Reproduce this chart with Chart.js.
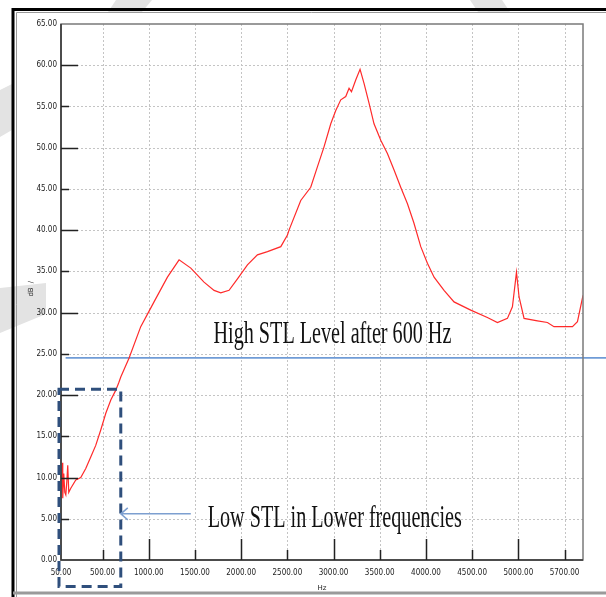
<!DOCTYPE html>
<html lang="en">
<head>
  <meta charset="UTF-8" />
  <title>STL chart</title>
  <script src="https://cdn.jsdelivr.net/npm/chart.js@4.4.0/dist/chart.umd.min.js"></script>
  <style>
    body { margin: 0; background: #fff; }
    #wrap { width: 606px; height: 597px; }
  </style>
</head>
<body>
  <div id="wrap"><canvas id="stlChart" width="606" height="597"></canvas></div>
  <script>
    // measured STL curve (Hz, dB)
    const freqHz = [58, 64, 69, 80, 91, 102, 113, 123, 134, 156, 210, 264, 318, 372, 426, 481, 535, 589, 643, 675,
      697, 787, 913, 1057, 1202, 1328, 1455, 1598, 1707, 1779, 1869, 1960, 2068, 2176, 2285, 2429, 2501, 2518,
      2645, 2753, 2826, 2897, 2970, 3024, 3078, 3132, 3168, 3194, 3240, 3287, 3330, 3384, 3438, 3511, 3583,
      3655, 3727, 3800, 3869, 3944, 4016, 4088, 4196, 4304, 4485, 4665, 4774, 4882, 4936, 4980, 5008, 5062, 5207,
      5315, 5386, 5586, 5640, 5700];
    const stlDb = [10.0, 11.8, 7.5, 10.5, 8.2, 7.9, 9.5, 11.5, 8.2, 8.7, 9.7, 10.0, 11.1, 12.5, 13.9, 15.8, 17.8, 19.4, 20.6, 21.5,
      22.2, 24.5, 28.3, 31.3, 34.3, 36.4, 35.4, 33.7, 32.7, 32.4, 32.7, 34.1, 35.8, 37.0, 37.4, 38.0, 39.4, 40.0,
      43.6, 45.2, 47.7, 50.1, 52.9, 54.5, 55.8, 56.2, 57.2, 56.8, 58.2, 59.5, 57.8, 55.4, 52.9, 50.9, 49.3,
      47.3, 45.2, 43.2, 40.9, 38.0, 36.0, 34.3, 32.7, 31.3, 30.3, 29.4, 28.8, 29.3, 30.7, 34.9, 31.9, 29.3, 29.0,
      28.8, 28.3, 28.3, 28.9, 32.1];

    // axis ticks
    const xTicks = [50, 500, 1000, 1500, 2000, 2500, 3000, 3500, 4000, 4500, 5000, 5500];
    const xTickLabels = ['50.00', '500.00', '1000.00', '1500.00', '2000.00', '2500.00', '3000.00',
      '3500.00', '4000.00', '4500.00', '5000.00', '5700.00'];
    const yMin = 0, yMax = 65, yStep = 5;

    // annotations
    const levelDb = 24.5;
    const levelHz = [100, 5960];
    const lowBoxHz = [50, 697];
    const lowBoxDb = [-3.2, 20.7];
    const arrowHz = [1455, 697];
    const arrowDb = 5.6;
    const highText = 'High STL Level after 600 Hz';
    const highTextAt = [2988, 26.3];
    const lowText = 'Low STL in Lower frequencies';
    const lowTextAt = [3013, 4.0];

    const decor = {
      id: 'decor',
      beforeDraw(chart) {
        const c = chart.ctx, W = chart.width, H = chart.height;
        c.save();
        c.fillStyle = '#fff';
        c.fillRect(0, 0, W, H);
        // faint watermark shapes from the source page
        c.fillStyle = '#e3e3e3';
        [[[116, 0], [152, 0], [142, 12], [108, 12]],
         [[470, 0], [502, 0], [510, 12], [478, 12]],
         [[0, 90], [12, 84], [12, 130], [0, 137]],
         [[0, 288], [46, 283], [46, 314], [0, 333]]].forEach(p => {
          c.beginPath();
          c.moveTo(p[0][0], p[0][1]);
          p.slice(1).forEach(q => c.lineTo(q[0], q[1]));
          c.closePath();
          c.fill();
        });
        // outer frame
        c.strokeStyle = '#000';
        c.lineWidth = 3;
        c.beginPath();
        c.moveTo(13, H); c.lineTo(13, 9.5); c.lineTo(W, 9.5);
        c.stroke();
        c.strokeStyle = '#999';
        c.lineWidth = 1;
        c.beginPath();
        c.moveTo(16.5, H); c.lineTo(16.5, 12.5); c.lineTo(W, 12.5);
        c.stroke();
        c.strokeStyle = '#9a9a9a';
        c.lineWidth = 3;
        c.beginPath();
        c.moveTo(13, 593); c.lineTo(W, 593);
        c.stroke();
        c.restore();
      },
      beforeDatasetsDraw(chart) {
        // dotted grid at the tick positions
        const c = chart.ctx, a = chart.chartArea;
        const xs = chart.scales.x, ys = chart.scales.y;
        c.save();
        c.strokeStyle = '#c4c4c4';
        c.lineWidth = 1;
        c.setLineDash([2, 2]);
        c.beginPath();
        xTicks.slice(1).forEach(v => {
          const px = Math.round(xs.getPixelForValue(v)) + 0.5;
          c.moveTo(px, a.top); c.lineTo(px, a.bottom);
        });
        for (let v = yMin + yStep; v < yMax; v += yStep) {
          const py = Math.round(ys.getPixelForValue(v)) + 0.5;
          c.moveTo(a.left, py); c.lineTo(a.right, py);
        }
        c.stroke();
        c.restore();
      },
      afterDraw(chart) {
        const c = chart.ctx, a = chart.chartArea;
        const xs = chart.scales.x, ys = chart.scales.y;
        c.save();
        // plot frame
        c.strokeStyle = '#7a7a7a';
        c.lineWidth = 1.5;
        c.strokeRect(a.left, a.top, a.right - a.left, a.bottom - a.top);
        c.strokeStyle = '#333';
        c.beginPath();
        c.moveTo(a.left, a.top); c.lineTo(a.left, a.bottom); c.lineTo(a.right, a.bottom);
        c.stroke();

        // inward tick marks
        c.strokeStyle = '#222';
        c.lineWidth = 1.5;
        c.beginPath();
        xTicks.slice(1).forEach(v => {
          const px = Math.round(xs.getPixelForValue(v)) + 0.5;
          const len = v % 1000 === 0 ? 21 : 10;
          c.moveTo(px, a.bottom); c.lineTo(px, a.bottom - len);
        });
        for (let v = yMin + yStep; v < yMax; v += yStep) {
          const py = Math.round(ys.getPixelForValue(v)) + 0.5;
          const len = v % 10 === 0 ? 17 : 8;
          c.moveTo(a.left, py); c.lineTo(a.left + len, py);
        }
        c.stroke();

        // y title
        c.fillStyle = '#222';
        c.font = "7px 'DejaVu Sans', sans-serif";
        c.translate(31, (a.top + a.bottom) / 2);
        c.rotate(-Math.PI / 2);
        c.textAlign = 'center';
        c.textBaseline = 'middle';
        c.fillText('dB', 0, 0);
        c.fillText('/', 10, 0);
        c.restore();

        // dashed box around the low-frequency region
        c.save();
        c.strokeStyle = '#2f4f7c';
        c.lineWidth = 3;
        c.setLineDash([10, 6]);
        const bx0 = xs.getPixelForValue(lowBoxHz[0]) - 2, bx1 = xs.getPixelForValue(lowBoxHz[1]);
        const by0 = ys.getPixelForValue(lowBoxDb[1]), by1 = ys.getPixelForValue(lowBoxDb[0]);
        c.strokeRect(bx0, by0, bx1 - bx0, by1 - by0);
        c.restore();

        // arrow
        c.save();
        const ax0 = xs.getPixelForValue(arrowHz[0]), ax1 = xs.getPixelForValue(arrowHz[1]);
        const ay = ys.getPixelForValue(arrowDb);
        c.strokeStyle = '#7d9fd0';
        c.lineWidth = 1.5;
        c.beginPath();
        c.moveTo(ax0, ay); c.lineTo(ax1, ay);
        c.moveTo(ax1 + 7, ay - 6); c.lineTo(ax1, ay); c.lineTo(ax1 + 7, ay + 6);
        c.stroke();
        c.restore();

        // text labels (narrow serif)
        const label = (txt, at) => {
          c.save();
          c.translate(xs.getPixelForValue(at[0]), ys.getPixelForValue(at[1]));
          c.scale(0.65, 1);
          c.font = "31px 'Liberation Serif', 'Times New Roman', serif";
          c.fillStyle = '#111';
          c.textAlign = 'center';
          c.textBaseline = 'alphabetic';
          c.fillText(txt, 0, 0);
          c.restore();
        };
        label(highText, highTextAt);
        label(lowText, lowTextAt);
      }
    };

    const ctx = document.getElementById('stlChart').getContext('2d');
    new Chart(ctx, {
      type: 'line',
      data: {
        datasets: [
          {
            data: freqHz.map((f, i) => ({ x: f, y: stlDb[i] })),
            borderColor: '#ff2a2a',
            borderWidth: 1.2,
            pointRadius: 0,
            tension: 0,
            fill: false
          },
          {
            data: levelHz.map(f => ({ x: f, y: levelDb })),
            borderColor: '#6f9bd6',
            borderWidth: 1.8,
            pointRadius: 0,
            fill: false,
            clip: false
          }
        ]
      },
      options: {
        responsive: false,
        animation: false,
        layout: { padding: { top: 24, right: 23, left: 0, bottom: 0 } },
        plugins: {
          legend: { display: false },
          tooltip: { enabled: false }
        },
        scales: {
          x: {
            type: 'linear',
            min: 50,
            max: 5700,
            afterBuildTicks: s => { s.ticks = xTicks.map(v => ({ value: v })); },
            afterFit: s => { s.height = 37; },
            ticks: {
              autoSkip: false,
              maxRotation: 0,
              padding: 8,
              color: '#222',
              font: { family: "'Liberation Sans Narrow', 'DejaVu Sans Condensed', sans-serif", size: 8 },
              callback: (v, i) => xTickLabels[i]
            },
            grid: { display: false, drawTicks: false },
            border: { display: false },
            title: {
              display: true,
              text: 'Hz',
              color: '#222',
              font: { family: "'DejaVu Sans', sans-serif", size: 7 },
              padding: { top: 0, bottom: 5 }
            }
          },
          y: {
            min: yMin,
            max: yMax,
            afterFit: s => { s.width = 61; },
            ticks: {
              stepSize: yStep,
              padding: 4,
              color: '#222',
              font: { family: "'Liberation Sans Narrow', 'DejaVu Sans Condensed', sans-serif", size: 8 },
              callback: v => v.toFixed(2)
            },
            grid: { display: false, drawTicks: false },
            border: { display: false }
          }
        }
      },
      plugins: [decor]
    });
  </script>
</body>
</html>
